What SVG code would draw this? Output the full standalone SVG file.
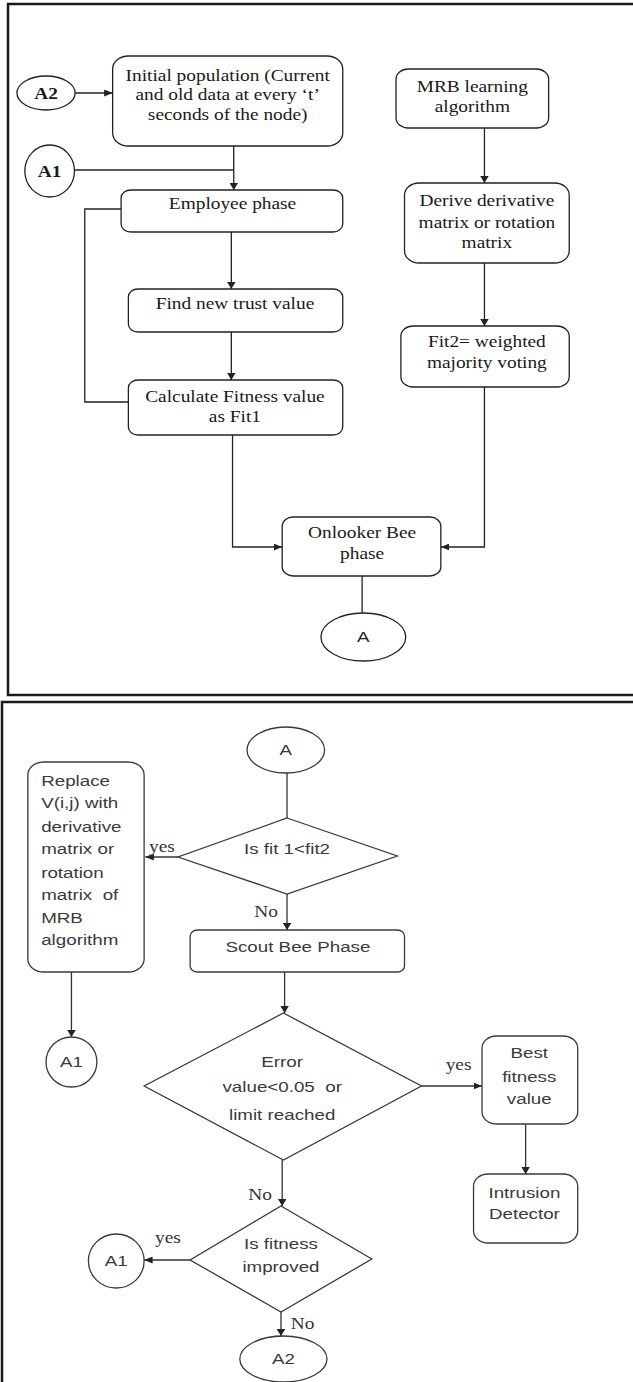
<svg xmlns="http://www.w3.org/2000/svg" width="633" height="1382" viewBox="0 0 633 1382">
<style>
.bg{fill:#fff}
.frame{fill:none;stroke:#1a1a1a;stroke-width:2.5}
.box{fill:#fff;stroke:#222;stroke-width:1.3;vector-effect:non-scaling-stroke}
.box2{fill:#fff;stroke:#3a3a3a;stroke-width:1.3;vector-effect:non-scaling-stroke}
.ln{fill:none;stroke:#222;stroke-width:1.3;vector-effect:non-scaling-stroke}
.ln2{fill:none;stroke:#333;stroke-width:1.3;vector-effect:non-scaling-stroke}
.t{font-family:"Liberation Serif","Times New Roman",serif;font-size:16px;fill:#1a1a1a;text-anchor:middle}
.s{font-family:"Liberation Sans",Arial,sans-serif;font-size:15.5px;fill:#3a3a3a;text-anchor:middle}
.sl{font-family:"Liberation Sans",Arial,sans-serif;font-size:15.5px;fill:#3a3a3a}
.lab{font-family:"Liberation Serif","Times New Roman",serif;font-size:16px;fill:#333}
</style>
<defs>
<marker id="ar" viewBox="0 0 10 10" refX="10" refY="5" markerWidth="7" markerHeight="7" markerUnits="userSpaceOnUse" orient="auto">
<path d="M0,0 L10,5 L0,10 z" fill="#222"/>
</marker>
</defs>
<rect class="bg" x="0" y="0" width="633" height="1382"/>
<rect class="frame" x="8" y="4" width="640" height="691"/>
<rect class="frame" x="2" y="702" width="640" height="700"/>

<g transform="scale(1.2111 1)">
<g id="connectors">
<line class="ln" x1="62" y1="93" x2="93" y2="93" marker-end="url(#ar)"/>
<line class="ln" x1="62" y1="170" x2="193" y2="170"/>
<line class="ln" x1="193" y1="146" x2="193" y2="190" marker-end="url(#ar)"/>
<polyline class="ln" points="100,209 70,209 70,402 106,402"/>
<line class="ln" x1="191" y1="232" x2="191" y2="289" marker-end="url(#ar)"/>
<line class="ln" x1="191" y1="332" x2="191" y2="380" marker-end="url(#ar)"/>
<line class="ln" x1="400" y1="128" x2="400" y2="183" marker-end="url(#ar)"/>
<line class="ln" x1="400" y1="263" x2="400" y2="326" marker-end="url(#ar)"/>
<polyline class="ln" points="192,435 192,547 233,547" marker-end="url(#ar)"/>
<polyline class="ln" points="400,387 400,547 364,547" marker-end="url(#ar)"/>
<line class="ln" x1="299" y1="576" x2="299" y2="613"/>

<line class="ln2" x1="237" y1="773" x2="237" y2="818"/>
<line class="ln2" x1="147" y1="857" x2="120" y2="857" marker-end="url(#ar)"/>
<line class="ln2" x1="237" y1="894" x2="237" y2="930" marker-end="url(#ar)"/>
<line class="ln2" x1="59" y1="972" x2="59" y2="1037" marker-end="url(#ar)"/>
<line class="ln2" x1="235" y1="972" x2="235" y2="1013" marker-end="url(#ar)"/>
<line class="ln2" x1="348" y1="1086" x2="398" y2="1086" marker-end="url(#ar)"/>
<line class="ln2" x1="434" y1="1124" x2="434" y2="1174" marker-end="url(#ar)"/>
<line class="ln2" x1="233" y1="1160" x2="233" y2="1206" marker-end="url(#ar)"/>
<line class="ln2" x1="157" y1="1260" x2="119" y2="1260" marker-end="url(#ar)"/>
<line class="ln2" x1="232" y1="1312" x2="232" y2="1336" marker-end="url(#ar)"/>
<text class="lab" x="123" y="852">yes</text>
<text class="lab" x="210" y="917">No</text>
<text class="lab" x="368" y="1070">yes</text>
<text class="lab" x="205" y="1200">No</text>
<text class="lab" x="128" y="1243">yes</text>
<text class="lab" x="240" y="1329">No</text>
</g>

<g id="A2_top"><ellipse class="box" cx="38" cy="93" rx="24" ry="17"/><text class="t" x="38" y="99" style="font-weight:bold">A2</text></g>
<g id="A1_top"><ellipse class="box" cx="41" cy="171" rx="20.5" ry="26"/><text class="t" x="41" y="177" style="font-weight:bold">A1</text></g>
<g id="initial"><rect class="box" x="93" y="56" width="190" height="90" rx="13"/>
<text class="t" x="188" y="81">Initial population (Current</text>
<text class="t" x="188" y="100">and old data at every ‘t’</text>
<text class="t" x="188" y="120">seconds of the node)</text></g>
<g id="mrb"><rect class="box" x="327" y="69" width="126" height="59" rx="10"/>
<text class="t" x="390" y="92">MRB learning</text>
<text class="t" x="390" y="112">algorithm</text></g>
<g id="employee"><rect class="box" x="100" y="190" width="183" height="42" rx="8"/>
<text class="t" x="192" y="209">Employee phase</text></g>
<g id="derive"><rect class="box" x="334" y="183" width="136" height="80" rx="12"/>
<text class="t" x="402" y="206">Derive derivative</text>
<text class="t" x="402" y="228">matrix or rotation</text>
<text class="t" x="402" y="248">matrix</text></g>
<g id="trust"><rect class="box" x="106" y="289" width="177" height="43" rx="8"/>
<text class="t" x="194" y="309">Find new trust value</text></g>
<g id="fit2"><rect class="box" x="331" y="326" width="139" height="61" rx="10"/>
<text class="t" x="402" y="347">Fit2= weighted</text>
<text class="t" x="402" y="368">majority voting</text></g>
<g id="calc"><rect class="box" x="106" y="380" width="177" height="55" rx="8"/>
<text class="t" x="194" y="402">Calculate Fitness value</text>
<text class="t" x="194" y="422">as Fit1</text></g>
<g id="onlooker"><rect class="box" x="233" y="517" width="131" height="59" rx="9"/>
<text class="t" x="299" y="538">Onlooker Bee</text>
<text class="t" x="299" y="559">phase</text></g>
<g id="A_top"><ellipse class="box" cx="300" cy="637" rx="35" ry="24"/><text class="s" x="300" y="642" style="fill:#222">A</text></g>

<g id="A_bottom"><ellipse class="box2" cx="236" cy="750" rx="32" ry="23"/><text class="s" x="236" y="755">A</text></g>
<g id="isfit"><polygon class="box2" points="237,818 328,856 237,894 147,857"/>
<text class="s" x="237" y="854">Is fit 1&lt;fit2</text></g>
<g id="replace"><rect class="box2" x="23" y="762" width="96" height="210" rx="13"/>
<text class="sl" x="34" y="786">Replace</text>
<text class="sl" x="34" y="808">V(i,j) with</text>
<text class="sl" x="34" y="832">derivative</text>
<text class="sl" x="34" y="854">matrix or</text>
<text class="sl" x="34" y="878">rotation</text>
<text class="sl" x="34" y="900" xml:space="preserve">matrix  of</text>
<text class="sl" x="34" y="923">MRB</text>
<text class="sl" x="34" y="945">algorithm</text></g>
<g id="scout"><rect class="box2" x="157" y="930" width="177" height="42" rx="6"/>
<text class="s" x="246" y="952">Scout Bee Phase</text></g>
<g id="A1_mid"><ellipse class="box2" cx="59" cy="1062" rx="21" ry="25"/><text class="s" x="59" y="1067">A1</text></g>
<g id="error"><polygon class="box2" points="234,1013 348,1086 234,1160 119,1086"/>
<text class="s" x="233" y="1067">Error</text>
<text class="s" x="233" y="1092" xml:space="preserve">value&lt;0.05  or</text>
<text class="s" x="233" y="1120">limit reached</text></g>
<g id="best"><rect class="box2" x="398" y="1036" width="79" height="88" rx="12"/>
<text class="s" x="437" y="1058">Best</text>
<text class="s" x="437" y="1082">fitness</text>
<text class="s" x="437" y="1104">value</text></g>
<g id="intrusion"><rect class="box2" x="391" y="1174" width="86" height="69" rx="12"/>
<text class="s" x="433" y="1198">Intrusion</text>
<text class="s" x="433" y="1219">Detector</text></g>
<g id="improved"><polygon class="box2" points="232,1206 307,1259 232,1312 157,1260"/>
<text class="s" x="232" y="1249">Is fitness</text>
<text class="s" x="232" y="1272">improved</text></g>
<g id="A1_bottom"><ellipse class="box2" cx="96" cy="1261" rx="23" ry="27"/><text class="s" x="96" y="1266">A1</text></g>
<g id="A2_bottom"><ellipse class="box2" cx="234" cy="1359" rx="36" ry="23"/><text class="s" x="234" y="1364">A2</text></g>
</g>
</svg>
